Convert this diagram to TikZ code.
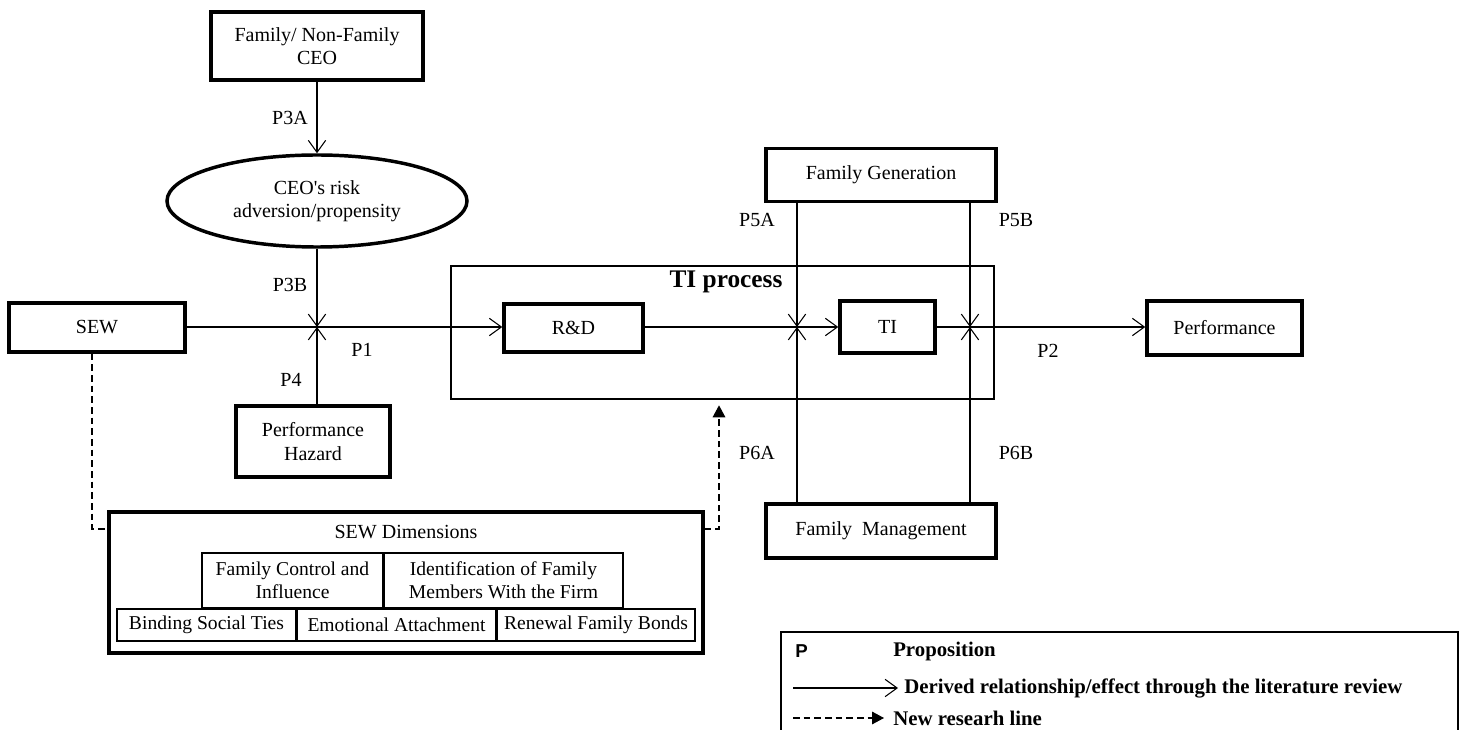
\documentclass[tikz,border=0pt]{standalone}
\usepackage{fontspec}
\setmainfont{Liberation Serif}
\newfontfamily\legsans{Liberation Sans}
\usetikzlibrary{arrows.meta,shapes.geometric}
\begin{document}
\begin{tikzpicture}[x=0.75pt,y=-0.75pt,
  txt/.style={font=\fontsize{15}{17.5}\selectfont},
  box/.style={draw,line width=2.6pt,inner sep=0pt,align=center,txt},
  sbox/.style={draw,line width=0.8pt,inner sep=0pt,align=center,font=\fontsize{14.7}{17}\selectfont},
  lab/.style={txt,inner sep=0pt},
  leg/.style={anchor=west,inner sep=0pt,font=\bfseries\fontsize{15.6}{17}\selectfont},
  arr/.style={line width=0.8pt,-{Straight Barb[length=9pt,width=13pt,line width=0.8pt]}},
  darr/.style={line width=0.8pt,dash pattern=on 5pt off 3pt},
]
\useasboundingbox (0,0) rectangle (1466,730);

% main boxes
\node[box,minimum width=159pt,minimum height=51pt] (ceo) at (317,46) {Family/ Non-Family\\CEO};
\node[box,ellipse,minimum width=225pt,minimum height=69pt] (risk) at (317,201) {CEO\textquotesingle s risk\\adversion/propensity};
\node[box,minimum width=132pt,minimum height=36.75pt] (sew) at (97,327.5) {SEW};
\node[box,minimum width=115.5pt,minimum height=53.25pt] (hazard) at (313,441.5) {Performance\\Hazard};
\node[draw,line width=1.5pt,minimum width=407.25pt,minimum height=99.75pt,inner sep=0pt] (proc) at (722.5,332.5) {};
\node[inner sep=0pt,font=\bfseries\fontsize{19}{21}\selectfont] (proclab) at (726,282) {TI process};
\node[box,minimum width=104.25pt,minimum height=36pt] (rd) at (573.5,328) {R\&D};
\node[box,minimum width=71.25pt,minimum height=39pt] (ti) at (887.5,327) {TI};
\node[box,minimum width=116.25pt,minimum height=40.5pt] (perf) at (1224.5,328) {Performance};
\node[box,minimum width=172.5pt,minimum height=40pt] (fg) at (881,175) {Family Generation};
\node[box,minimum width=172.5pt,minimum height=40.5pt] (fm) at (881,531) {Family\ \ Management};

% SEW dimensions
\node[box,minimum width=445.5pt,minimum height=105.75pt] (sewdim) at (406,582.5) {};
\node[lab] (sewdimlab) at (406,532) {SEW Dimensions};
\node[sbox,minimum width=135.75pt,minimum height=41.25pt] (fci) at (292.5,580.5) {Family Control and\\Influence};
\node[sbox,minimum width=179.25pt,minimum height=41.25pt] (ifm) at (503.5,580.5) {Identification of Family\\Members With the Firm};
\node[sbox,minimum width=134.25pt,minimum height=24pt] (bst) at (206.5,625) {Binding Social Ties};
\node[sbox,minimum width=149.25pt,minimum height=24pt] (ea) at (396.5,625) {Emotional Attachment};
\node[sbox,minimum width=148.5pt,minimum height=24pt] (rfb) at (596,625) {Renewal Family Bonds};

% junctions
\coordinate (j1) at (317,327);
\coordinate (j2) at (797,327);
\coordinate (j3) at (970,327);

% connectors
\draw[arr] (ceo.south) -- (risk.north);
\draw[arr] (risk.south) -- (j1);
\draw[arr] (hazard.north -| j1) -- (j1);
\draw[arr] (sew.east |- j1) -- (rd.west |- j1);
\draw[arr] (rd.east |- j2) -- (ti.west |- j2);
\draw[arr] (fg.south -| j2) -- (j2);
\draw[arr] (fm.north -| j2) -- (j2);
\draw[arr] (ti.east |- j3) -- (perf.west |- j3);
\draw[arr] (fg.south -| j3) -- (j3);
\draw[arr] (fm.north -| j3) -- (j3);

% dashed research lines
\coordinate (dl) at (92,529);
\coordinate (dr) at (719,529);
\draw[darr] (sew.south -| dl) -- (dl) -- (dl -| sewdim.west);
\draw[darr,-{Triangle[length=9pt,width=9.5pt]}] (dr -| sewdim.east) -- (dr) -- ([yshift=-4pt]dr |- proc.south);

% labels
\node[lab] (p3a) at (290,118) {P3A};
\node[lab] (p3b) at (290,285) {P3B};
\node[lab] (p1) at (362,350) {P1};
\node[lab] (p4) at (291,380) {P4};
\node[lab] (p5a) at (757,220) {P5A};
\node[lab] (p5b) at (1016,220) {P5B};
\node[lab] (p6a) at (757,453) {P6A};
\node[lab] (p6b) at (1016,453) {P6B};
\node[lab] (p2) at (1048,351) {P2};

% legend
\node[draw,line width=1.5pt,minimum width=507.75pt,minimum height=84.75pt,inner sep=0pt] (legend) at (1119.5,688.5) {};
\node[anchor=west,inner sep=0pt,font=\legsans\bfseries\fontsize{14}{16}\selectfont] (lp) at (795,651) {P};
\node[leg] (lprop) at (893,651) {Proposition};
\coordinate (la1) at (793,688);
\coordinate (la2) at (898,688);
\draw[arr] (la1) -- (la2);
\node[leg] (lder) at (904,688) {Derived relationship/effect through the literature review};
\coordinate (lb1) at (793,718);
\coordinate (lb2) at (884,718);
\draw[darr,-{Triangle[length=9pt,width=9.5pt]}] (lb1) -- (lb2);
\node[leg] (lnew) at (893,718) {New researh line};
\end{tikzpicture}
\end{document}
